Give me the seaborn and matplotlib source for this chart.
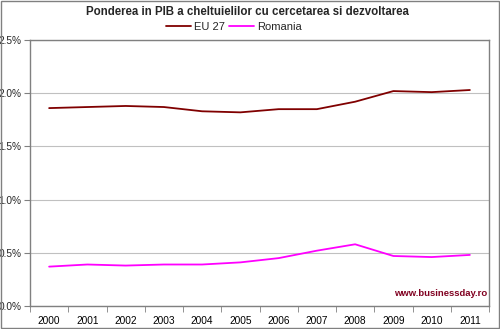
import matplotlib
matplotlib.use("Agg")
import matplotlib.pyplot as plt
import seaborn as sns
import pandas as pd
import numpy as np
from matplotlib.ticker import FuncFormatter, FixedLocator
from matplotlib.lines import Line2D

years = ["2000", "2001", "2002", "2003", "2004", "2005", "2006", "2007", "2008", "2009", "2010", "2011"]
eu27 = [1.86, 1.87, 1.88, 1.87, 1.83, 1.82, 1.85, 1.85, 1.92, 2.02, 2.01, 2.03]
romania = [0.37, 0.39, 0.38, 0.39, 0.39, 0.41, 0.45, 0.52, 0.58, 0.47, 0.46, 0.48]
series_names = ["EU 27", "Romania"]
title = "Ponderea in PIB a cheltuielilor cu cercetarea si dezvoltarea"
watermark = "www.businessday.ro"

sns.set_style("white")
plt.rcParams['font.family'] = ['Liberation Sans', 'DejaVu Sans']

df = pd.DataFrame({
    "idx": list(range(len(years))) * 2,
    "value": eu27 + romania,
    "series": [series_names[0]] * len(years) + [series_names[1]] * len(years),
})

fig = plt.figure(figsize=(5.0, 3.29), dpi=100)
ax = fig.add_axes([30/500, 1 - 306/329, 459/500, 266/329])

sns.lineplot(data=df, x="idx", y="value", hue="series",
             palette={"EU 27": "#800000", "Romania": "#FF00FF"},
             linewidth=1.3, ax=ax, legend=False)

ax.set_xlim(-0.5, len(years) - 0.5)
ax.set_ylim(0, 2.5)
ax.yaxis.set_major_locator(FixedLocator([0, 0.5, 1.0, 1.5, 2.0, 2.5]))
ax.yaxis.set_major_formatter(FuncFormatter(lambda v, p: f"{v:.1f}%"))
ax.set_xticks(range(len(years)))
ax.set_xticklabels(years)
ax.set_xticks(np.arange(-0.5, len(years), 1.0), minor=True)
ax.tick_params(axis="x", which="major", length=0, labelsize=7.3, pad=7, colors="#000000")
ax.tick_params(axis="x", which="minor", length=4, direction="out", color="#808080", bottom=True)
ax.tick_params(axis="y", which="major", length=4, direction="out", color="#808080", labelsize=7.3, left=True, pad=2)
ax.set_xlabel("")
ax.set_ylabel("")
ax.grid(axis="y", color="#c0c0c0", linewidth=0.8)
for s in ["left", "bottom", "top", "right"]:
    ax.spines[s].set_color("#808080")
    ax.spines[s].set_linewidth(1.0)
    ax.spines[s].set_visible(True)

handles = [Line2D([0], [0], color="#800000", lw=1.3), Line2D([0], [0], color="#FF00FF", lw=1.3)]
fig.legend(handles, series_names, loc="center", bbox_to_anchor=(0.468, 1 - 27/329),
           ncol=2, frameon=False, fontsize=8, handlelength=2.2, handletextpad=0.3,
           columnspacing=0.4, borderpad=0)

fig.text(0.494, 1 - 12/329, title, ha="center", va="center", fontsize=8.3, fontweight="bold")
ax.text(0.997, 0.03, watermark, transform=ax.transAxes, ha="right", va="bottom",
        fontsize=6.8, fontweight="bold", color="#800020")

fig.patches.append(plt.Rectangle((0.001, 0.002), 0.997, 0.995, transform=fig.transFigure,
                                 fill=False, edgecolor="#808080", linewidth=1))

fig.savefig("out.png", dpi=100)
